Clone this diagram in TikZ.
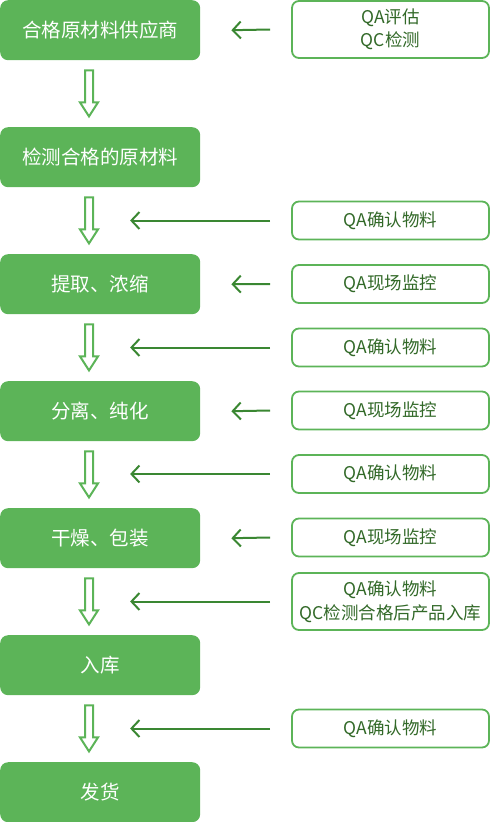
\documentclass[tikz,border=0pt]{standalone}
\usepackage{fontspec}
\setmainfont{Noto Sans CJK SC}
\usetikzlibrary{arrows.meta,calc}
\definecolor{boxgreen}{RGB}{92,180,88}
\definecolor{arrgreen}{RGB}{58,135,50}
\definecolor{txtgreen}{RGB}{50,105,40}
\begin{document}
\begin{tikzpicture}[x=1pt,y=-1pt,
  stage/.style={fill=boxgreen,rounded corners=8pt,minimum width=200pt,minimum height=60pt,inner sep=0pt,
    text=white,font=\fontsize{19.5pt}{22pt}\selectfont,anchor=north west},
  check/.style={draw=boxgreen,line width=1.8pt,rounded corners=7pt,fill=white,minimum width=197pt,minimum height=38pt,
    inner sep=0pt,text=txtgreen,align=center,font=\fontsize{17.5pt}{23.5pt}\selectfont},
  larrow/.style={draw=arrgreen,line width=2pt,-{Straight Barb[length=8pt,width=17pt,line width=2pt]}},
  hollow/.style={draw=boxgreen,line width=2pt,fill=white,line join=miter}]
\useasboundingbox (0,0) rectangle (491,822);
% stages
\node[stage] (b1) at (0,0) {合格原材料供应商};
\node[stage] (b2) at (0,127) {检测合格的原材料};
\node[stage] (b3) at (0,254) {提取、浓缩};
\node[stage] (b4) at (0,381) {分离、纯化};
\node[stage] (b5) at (0,508) {干燥、包装};
\node[stage] (b6) at (0,635) {入库};
\node[stage] (b7) at (0,762) {发货};
% hollow arrows
\foreach \b in {b1,b2,b3,b4,b5,b6}{
  \draw[hollow] ($(\b.south west)+(85,10)$) -- ++(8,0) -- ++(0,32) -- ++(5,0) -- ++(-9,14) -- ++(-9,-14) -- ++(5,0) -- cycle;
}
% check boxes
\node[check,minimum height=57pt] (r1) at (390.5,29.5) {QA评估\\QC检测};
\node[check] (r2) at (390.5,220.5) {QA确认物料};
\node[check] (r3) at (390.5,284) {QA现场监控};
\node[check] (r4) at (390.5,347.5) {QA确认物料};
\node[check] (r5) at (390.5,410.5) {QA现场监控};
\node[check] (r6) at (390.5,474) {QA确认物料};
\node[check] (r7) at (390.5,537.5) {QA现场监控};
\node[check,minimum height=57pt] (r8) at (390.5,601.5) {QA确认物料\\QC检测合格后产品入库};
\node[check] (r9) at (390.5,728.5) {QA确认物料};
% short arrows to stages
\draw[larrow] ($(r1.west)+(-21,0)$) -- ($(b1.east)+(31,0)$);
\draw[larrow] ($(r3.west)+(-21,0)$) -- ($(b3.east)+(31,0)$);
\draw[larrow] ($(r5.west)+(-21,0)$) -- ($(b4.east)+(31,0)$);
\draw[larrow] ($(r7.west)+(-21,0)$) -- ($(b5.east)+(31,0)$);
% long arrows to hollow arrows
\foreach \r in {r2,r4,r6,r8,r9}{
  \draw[larrow] ($(\r.west)+(-21,0)$) -- ++(-140,0);
}
\end{tikzpicture}
\end{document}
